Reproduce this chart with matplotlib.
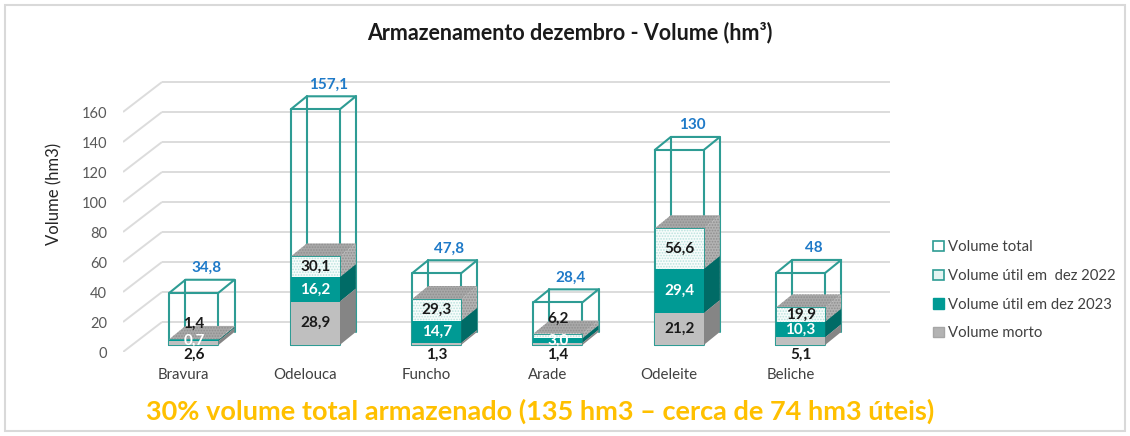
import matplotlib
matplotlib.use("Agg")
import matplotlib.pyplot as plt
from matplotlib.patches import Polygon, Patch, Rectangle

plt.rcParams['font.family'] = ['Lato', 'DejaVu Sans']
plt.rcParams['hatch.linewidth'] = 0.8

# Dados
barragens = ['Bravura', 'Odelouca', 'Funcho', 'Arade', 'Odeleite', 'Beliche']
volume_total = [34.8, 157.1, 47.8, 28.4, 130, 48]
util_2022 = [1.4, 30.1, 29.3, 6.2, 56.6, 19.9]
util_2023 = [0.7, 16.2, 14.7, 3.0, 29.4, 10.3]
volume_morto = [2.6, 28.9, 1.3, 1.4, 21.2, 5.1]

legenda = ['Volume total', 'Volume útil em  dez 2022',
           'Volume útil em dez 2023', 'Volume morto']

# Cores
teal = '#009a94'
teal_side = '#006b66'
teal_edge = '#2e9c94'
cinza = '#bfbfbf'
cinza_side = '#858585'
azul = '#1f7ac8'

# geometria do "3D"
ddx, ddy = 0.3214, 20.0      # profundidade do chao (parede do fundo)
fx, fy = 0.085, 4.7          # plano frontal das barras
bdx, bdy = 0.132, 8.67       # profundidade das barras
w = 0.404                    # largura das barras

fig = plt.figure(figsize=(11.3, 4.36), dpi=100)
ax = fig.add_axes([123 / 1130, 84 / 436, 767 / 1130, 292 / 436])
ax.set_xlim(-0.5, 5.5 + ddx)
ax.set_ylim(0, 292 / 1.5)
for s in ax.spines.values():
    s.set_visible(False)

# grelha (parede do fundo + diagonais)
grid_c = '#dcdcdc'
for v in range(0, 161, 20):
    ax.plot([-0.5, -0.5 + ddx], [v, v + ddy], color=grid_c, lw=1.4, zorder=1,
            solid_capstyle='butt')
    ax.plot([-0.5 + ddx, 5.5 + ddx], [v + ddy, v + ddy], color=grid_c, lw=1.4,
            zorder=1, solid_capstyle='butt')

ax.set_yticks(range(0, 161, 20))
ax.tick_params(axis='y', length=0, pad=11.5, labelsize=10.5, labelcolor='#595959')
ax.set_xticks(range(len(barragens)))
ax.set_xticklabels(barragens)
ax.tick_params(axis='x', length=0, pad=11.5, labelsize=10.8, labelcolor='#404040')
ax.set_ylabel('Volume (hm3)', fontsize=12, color='#262626')
ax.yaxis.set_label_coords(-0.079, 0.54)


def caixa(i, v0, v1, front, side, top, z, draw_top=False, hatch=None,
          hcol=None, tcol=None, ec='none'):
    xl = i + fx - w / 2
    xr = i + fx + w / 2
    y0, y1 = v0 + fy, v1 + fy
    faces = [([(xr, y0), (xr + bdx, y0 + bdy), (xr + bdx, y1 + bdy), (xr, y1)], side, False)]
    if draw_top:
        faces.append(([(xl, y1), (xr, y1), (xr + bdx, y1 + bdy), (xl + bdx, y1 + bdy)], top, False))
    faces.append(([(xl, y0), (xr, y0), (xr, y1), (xl, y1)], front, True))
    for pts, fc, is_front in faces:
        ax.add_patch(Polygon(pts, closed=True, facecolor=fc, edgecolor='none',
                             lw=0, zorder=z))
        if hatch is not None:
            hc = hcol if is_front else tcol
            ax.add_patch(Polygon(pts, closed=True, facecolor='none', edgecolor=hc,
                                 lw=0, hatch=hatch, zorder=z))
        if ec != 'none' and is_front:
            ax.add_patch(Polygon(pts, closed=True, facecolor='none', edgecolor=ec,
                                 lw=0.7, zorder=z))


def arame(i, top):
    xl = i + fx - w / 2
    xr = i + fx + w / 2
    y0, y1 = fy, top + fy
    kw = dict(color=teal_edge, lw=1.5, zorder=2, solid_capstyle='round')
    ax.plot([xl, xr, xr, xl, xl], [y0, y0, y1, y1, y0], **kw)
    ax.plot([xl, xl + bdx, xr + bdx, xr], [y1, y1 + bdy, y1 + bdy, y1], **kw)
    ax.plot([xr + bdx, xr + bdx], [y0 + bdy, y1 + bdy], **kw)
    ax.plot([xl + bdx, xl + bdx], [y0 + bdy, y1 + bdy], **kw)


fs = 11
for i in range(len(barragens)):
    m = volume_morto[i]
    u22 = util_2022[i]
    u23 = util_2023[i]
    tot = volume_total[i]
    xc = i + fx

    arame(i, tot)
    caixa(i, m, m + u22, '#f7fcfb', '#b3b3b3', '#a8a8a8', 3, draw_top=True,
          hatch='......', hcol='#b9e2dd', tcol='#8f8f8f', ec=teal_edge)
    caixa(i, m, m + u23, teal, teal_side, teal_side, 4)
    caixa(i, 0, m, cinza, cinza_side, cinza_side, 5)

    # rotulos
    ax.text(xc + bdx * 0.8, tot + fy + bdy + 3, f'{tot:g}'.replace('.', ','),
            ha='center', va='bottom', color=azul, fontsize=fs, fontweight='bold', zorder=10)
    ax.text(xc, m + u23 / 2 + fy, f'{u23:.1f}'.replace('.', ','), ha='center',
            va='center', color='white', fontsize=fs, fontweight='bold', zorder=10)
    if u22 - u23 > 8:
        y22 = m + (u23 + u22) / 2 + fy
    else:
        y22 = m + u22 + fy + 10
    ax.text(xc, y22, f'{u22:.1f}'.replace('.', ','), ha='center', va='center',
            color='#1a1a1a', fontsize=fs, fontweight='bold', zorder=10)
    if m > 10:
        ax.text(xc, m / 2 + fy, f'{m:.1f}'.replace('.', ','), ha='center',
                va='center', color='#1a1a1a', fontsize=fs, fontweight='bold', zorder=10)
    else:
        ax.text(xc, fy - 2, f'{m:.1f}'.replace('.', ','), ha='center',
                va='top', color='#1a1a1a', fontsize=fs, fontweight='bold', zorder=10)

handles = [
    Patch(facecolor='white', edgecolor=teal_edge, lw=1.2),
    Patch(facecolor='#e4f4f2', edgecolor=teal_edge, lw=1.2),
    Patch(facecolor=teal, edgecolor=teal),
    Patch(facecolor='#b3b3b3', edgecolor='#a6a6a6'),
]
fig.legend(handles, legenda, loc='upper left', bbox_to_anchor=(920 / 1130, 1 - 227 / 436),
           frameon=False, fontsize=10.7, handlelength=0.7, handleheight=0.7,
           handletextpad=0.3, labelspacing=0.98, labelcolor='#404040')

fig.text(570 / 1130, 1 - 33 / 436, 'Armazenamento dezembro - Volume (hm³)',
         ha='center', va='center', fontsize=15.5, fontweight='bold', color='#1a1a1a')
fig.text(540 / 1130, 1 - 411 / 436,
         '30% volume total armazenado (135 hm3 – cerca de 74 hm3 úteis)',
         ha='center', va='center', fontsize=19.5, fontweight='bold', color='#ffc000')

fig.patches.append(Rectangle((5 / 1130, 5 / 436), 1120 / 1130, 426 / 436,
                             transform=fig.transFigure, fill=False,
                             edgecolor='#d9d9d9', lw=1.5))

fig.savefig('out.png', dpi=100)
